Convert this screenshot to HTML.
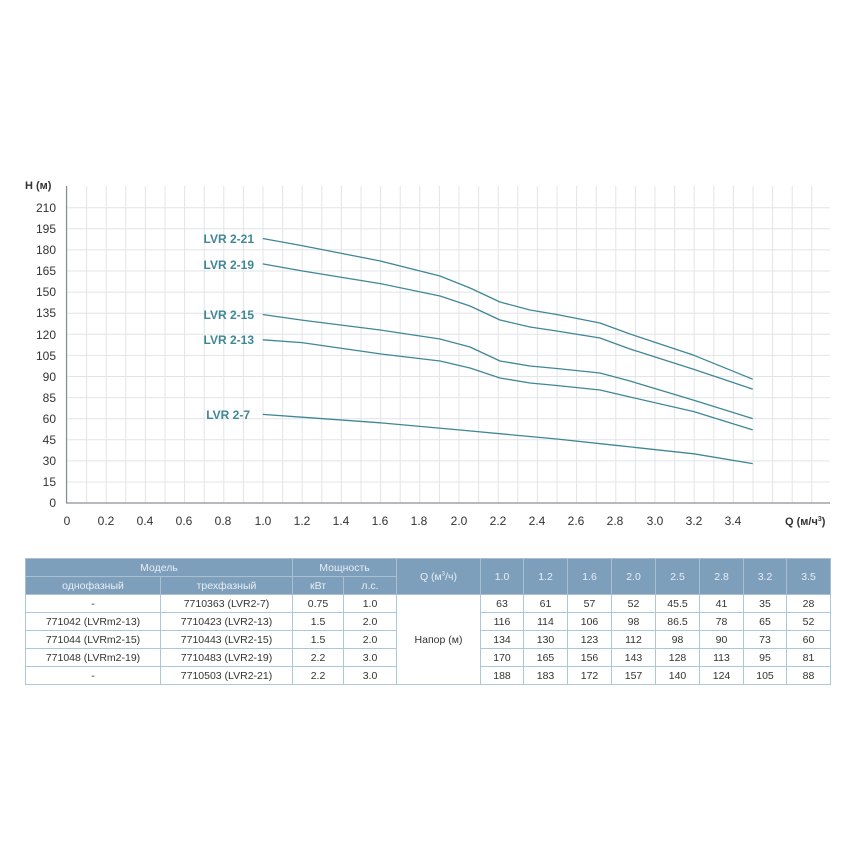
<!DOCTYPE html>
<html><head><meta charset="utf-8"><style>
body{margin:0;background:#fff;width:850px;height:850px;overflow:hidden;font-family:"Liberation Sans",sans-serif}
svg{position:absolute;left:0;top:0}
table{position:absolute;left:25px;top:558px;border-collapse:collapse;font-family:"Liberation Sans",sans-serif;font-size:10.5px;color:#333;table-layout:fixed}
td,th{border:1px solid #a9c9d9;text-align:center;padding:0;height:17px;font-weight:normal;white-space:nowrap}
th{background:#7e9fbb;color:#e6eef5;border-color:#a9c0d2}
</style></head><body>
<svg width="850" height="560" xmlns="http://www.w3.org/2000/svg">
<g stroke="#e2e4e7" stroke-width="1">
<g id="v"></g>
</g>
<g stroke="#e2e4e7" stroke-width="1">
<line x1="67" y1="186" x2="67" y2="503"/>
<line x1="86.6" y1="186" x2="86.6" y2="503"/><line x1="106.2" y1="186" x2="106.2" y2="503"/><line x1="125.8" y1="186" x2="125.8" y2="503"/><line x1="145.4" y1="186" x2="145.4" y2="503"/><line x1="165" y1="186" x2="165" y2="503"/><line x1="184.6" y1="186" x2="184.6" y2="503"/><line x1="204.2" y1="186" x2="204.2" y2="503"/><line x1="223.8" y1="186" x2="223.8" y2="503"/><line x1="243.4" y1="186" x2="243.4" y2="503"/><line x1="263" y1="186" x2="263" y2="503"/><line x1="282.6" y1="186" x2="282.6" y2="503"/><line x1="302.2" y1="186" x2="302.2" y2="503"/><line x1="321.8" y1="186" x2="321.8" y2="503"/><line x1="341.4" y1="186" x2="341.4" y2="503"/><line x1="361" y1="186" x2="361" y2="503"/><line x1="380.6" y1="186" x2="380.6" y2="503"/><line x1="400.2" y1="186" x2="400.2" y2="503"/><line x1="419.8" y1="186" x2="419.8" y2="503"/><line x1="439.4" y1="186" x2="439.4" y2="503"/><line x1="459" y1="186" x2="459" y2="503"/><line x1="478.6" y1="186" x2="478.6" y2="503"/><line x1="498.2" y1="186" x2="498.2" y2="503"/><line x1="517.8" y1="186" x2="517.8" y2="503"/><line x1="537.4" y1="186" x2="537.4" y2="503"/><line x1="557" y1="186" x2="557" y2="503"/><line x1="576.6" y1="186" x2="576.6" y2="503"/><line x1="596.2" y1="186" x2="596.2" y2="503"/><line x1="615.8" y1="186" x2="615.8" y2="503"/><line x1="635.4" y1="186" x2="635.4" y2="503"/><line x1="655" y1="186" x2="655" y2="503"/><line x1="674.6" y1="186" x2="674.6" y2="503"/><line x1="694.2" y1="186" x2="694.2" y2="503"/><line x1="713.8" y1="186" x2="713.8" y2="503"/><line x1="733.4" y1="186" x2="733.4" y2="503"/><line x1="753" y1="186" x2="753" y2="503"/><line x1="772.6" y1="186" x2="772.6" y2="503"/><line x1="792.2" y1="186" x2="792.2" y2="503"/><line x1="811.8" y1="186" x2="811.8" y2="503"/>
<line x1="67" y1="207.7" x2="830" y2="207.7"/><line x1="67" y1="228.8" x2="830" y2="228.8"/><line x1="67" y1="249.9" x2="830" y2="249.9"/><line x1="67" y1="271" x2="830" y2="271"/><line x1="67" y1="292.1" x2="830" y2="292.1"/><line x1="67" y1="313.2" x2="830" y2="313.2"/><line x1="67" y1="334.3" x2="830" y2="334.3"/><line x1="67" y1="355.4" x2="830" y2="355.4"/><line x1="67" y1="376.5" x2="830" y2="376.5"/><line x1="67" y1="397.6" x2="830" y2="397.6"/><line x1="67" y1="418.7" x2="830" y2="418.7"/><line x1="67" y1="439.8" x2="830" y2="439.8"/><line x1="67" y1="460.9" x2="830" y2="460.9"/><line x1="67" y1="482" x2="830" y2="482"/>
</g>
<line x1="66.5" y1="186" x2="66.5" y2="503" stroke="#8a8f96" stroke-width="1.2"/>
<line x1="66" y1="503" x2="830" y2="503" stroke="#8a8f96" stroke-width="1.2"/>
<g font-size="12" fill="#333" text-anchor="end">
<text x="56" y="212">210</text><text x="56" y="233">195</text><text x="56" y="254">180</text><text x="56" y="275">165</text><text x="56" y="296">150</text><text x="56" y="317">135</text><text x="56" y="339">120</text><text x="56" y="360">105</text><text x="56" y="381">90</text><text x="56" y="402">85</text><text x="56" y="423">60</text><text x="56" y="444">45</text><text x="56" y="465">30</text><text x="56" y="486">15</text><text x="56" y="507">0</text>
</g>
<text x="25" y="189" font-size="11" font-weight="bold" fill="#333">H (м)</text>
<g font-size="12" fill="#333" text-anchor="middle">
<text x="67" y="525">0</text><text x="106" y="525">0.2</text><text x="145" y="525">0.4</text><text x="184" y="525">0.6</text><text x="223" y="525">0.8</text><text x="263" y="525">1.0</text><text x="302" y="525">1.2</text><text x="341" y="525">1.4</text><text x="380" y="525">1.6</text><text x="419" y="525">1.8</text><text x="459" y="525">2.0</text><text x="498" y="525">2.2</text><text x="537" y="525">2.4</text><text x="576" y="525">2.6</text><text x="615" y="525">2.8</text><text x="655" y="525">3.0</text><text x="694" y="525">3.2</text><text x="733" y="525">3.4</text>
</g>
<text x="785" y="525" font-size="11" font-weight="bold" fill="#333">Q (м/ч<tspan font-size="7" dy="-4">3</tspan><tspan dy="4">)</tspan></text>
<g fill="none" stroke="#3f8797" stroke-width="1.3" stroke-linejoin="round">
<polyline points="262.7,414.4 301.9,417.2 380.3,422.8 458.7,429.9 556.7,439 615.5,445.3 693.9,453.8 752.7,463.6"/>
<polyline points="262.7,339.8 301.9,342.6 380.3,353.9 440,361 470,368 500,378 530,383 556.7,385.5 600,390 630,397 693.9,411.6 752.7,429.9"/>
<polyline points="262.7,314.5 301.9,320.1 380.3,330 440,339 470,347 500,361 530,366 556.7,368.5 600,373 630,381 693.9,400.3 752.7,418.6"/>
<polyline points="262.7,263.9 301.9,270.9 380.3,283.6 440,296 470,306 500,320 530,327 556.7,331 600,338 630,349 693.9,369.4 752.7,389.1"/>
<polyline points="262.7,238.5 301.9,245.6 380.3,261 440,276 470,288 500,302 530,310 556.7,314.5 600,323 630,334 693.9,355.3 752.7,379.2"/>
</g>
<g font-size="12" font-weight="bold" fill="#3f8797" text-anchor="end">
<text x="254" y="243">LVR 2-21</text><text x="254" y="269">LVR 2-19</text><text x="254" y="319">LVR 2-15</text><text x="254" y="344">LVR 2-13</text><text x="250" y="419">LVR 2-7</text>
</g>
</svg>
<table>
<colgroup><col style="width:135px"><col style="width:132px"><col style="width:51px"><col style="width:53px"><col style="width:84px"><col style="width:43px"><col style="width:44px"><col style="width:44px"><col style="width:44px"><col style="width:44px"><col style="width:44px"><col style="width:43px"><col style="width:44px"></colgroup>
<tr><th colspan="2">Модель</th><th colspan="2">Мощность</th><th rowspan="2">Q (м<sup style="font-size:6px">3</sup>/ч)</th><th rowspan="2">1.0</th><th rowspan="2">1.2</th><th rowspan="2">1.6</th><th rowspan="2">2.0</th><th rowspan="2">2.5</th><th rowspan="2">2.8</th><th rowspan="2">3.2</th><th rowspan="2">3.5</th></tr>
<tr><th>однофазный</th><th>трехфазный</th><th>кВт</th><th>л.с.</th></tr>
<tr><td>-</td><td>7710363 (LVR2-7)</td><td>0.75</td><td>1.0</td><td style="border-bottom:none"></td><td>63</td><td>61</td><td>57</td><td>52</td><td>45.5</td><td>41</td><td>35</td><td>28</td></tr>
<tr><td>771042 (LVRm2-13)</td><td>7710423 (LVR2-13)</td><td>1.5</td><td>2.0</td><td style="border-top:none;border-bottom:none"></td><td>116</td><td>114</td><td>106</td><td>98</td><td>86.5</td><td>78</td><td>65</td><td>52</td></tr>
<tr><td>771044 (LVRm2-15)</td><td>7710443 (LVR2-15)</td><td>1.5</td><td>2.0</td><td style="border-top:none;border-bottom:none">Напор (м)</td><td>134</td><td>130</td><td>123</td><td>112</td><td>98</td><td>90</td><td>73</td><td>60</td></tr>
<tr><td>771048 (LVRm2-19)</td><td>7710483 (LVR2-19)</td><td>2.2</td><td>3.0</td><td style="border-top:none;border-bottom:none"></td><td>170</td><td>165</td><td>156</td><td>143</td><td>128</td><td>113</td><td>95</td><td>81</td></tr>
<tr><td>-</td><td>7710503 (LVR2-21)</td><td>2.2</td><td>3.0</td><td style="border-top:none"></td><td>188</td><td>183</td><td>172</td><td>157</td><td>140</td><td>124</td><td>105</td><td>88</td></tr>
</table>
</body></html>
